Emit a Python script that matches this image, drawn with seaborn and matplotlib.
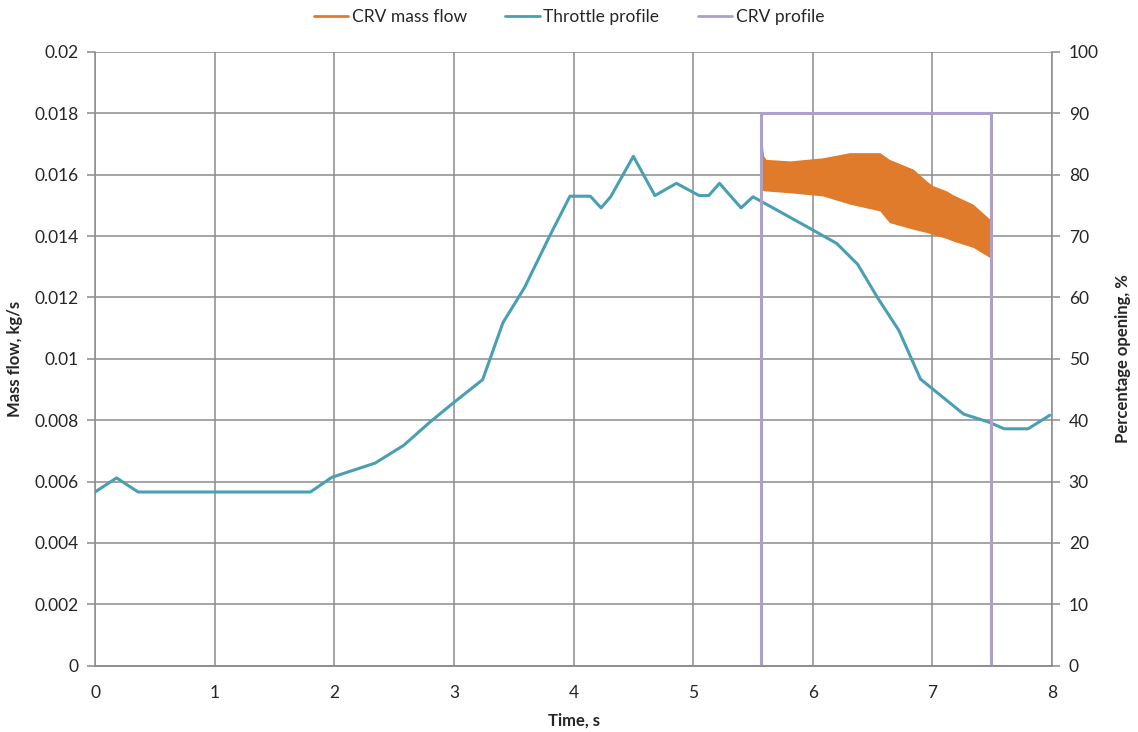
import matplotlib
matplotlib.use("Agg")
import matplotlib.pyplot as plt
from matplotlib.lines import Line2D
import seaborn as sns
import pandas as pd

# ---- data ----
throttle_time = [0.00, 0.18, 0.36, 1.80, 1.98, 2.34, 2.58, 2.80, 3.00, 3.24, 3.41, 3.59,
                 3.80, 3.97, 4.14, 4.23, 4.31, 4.50, 4.68, 4.86, 5.05, 5.13, 5.22, 5.40,
                 5.50, 5.99, 6.20, 6.375, 6.54, 6.72, 6.90, 7.26, 7.47, 7.60, 7.80, 7.98]
throttle_pct = [28.3, 30.6, 28.3, 28.3, 30.7, 33.0, 35.9, 39.7, 42.9, 46.6, 55.9, 61.6,
                70.0, 76.5, 76.5, 74.6, 76.4, 83.0, 76.6, 78.6, 76.6, 76.6, 78.6, 74.6,
                76.4, 71.1, 68.8, 65.4, 60.0, 54.6, 46.7, 41.0, 39.7, 38.6, 38.6, 40.8]

crv_profile_time = [5.57, 5.57, 7.49, 7.49]
crv_profile_pct = [0, 90, 90, 0]

crv_flow_time = [5.57, 5.59, 5.61, 5.81, 6.08, 6.31, 6.56, 6.64, 6.84, 6.95, 7.00,
                 7.12, 7.17, 7.34, 7.48]
crv_flow_upper = [0.0172, 0.0166, 0.0165, 0.01645, 0.01655, 0.01672, 0.01672, 0.0165,
                  0.01618, 0.0158, 0.01565, 0.01547, 0.01535, 0.01504, 0.01455]
crv_flow_lower = [0.0155, 0.01548, 0.01547, 0.01541, 0.01531, 0.01504, 0.01482, 0.01444,
                  0.01422, 0.01412, 0.01406, 0.01392, 0.01384, 0.01363, 0.0133]

x_ticks = [0, 1, 2, 3, 4, 5, 6, 7, 8]
left_ticks = [0, 0.002, 0.004, 0.006, 0.008, 0.01, 0.012, 0.014, 0.016, 0.018, 0.02]
left_labels = ["0", "0.002", "0.004", "0.006", "0.008", "0.01", "0.012", "0.014",
               "0.016", "0.018", "0.02"]
right_ticks = [0, 10, 20, 30, 40, 50, 60, 70, 80, 90, 100]

# ---- style ----
sns.set_theme(style="white")
plt.rcParams['font.family'] = ['Lato', 'DejaVu Sans']

ORANGE = "#E07B2C"
TEAL = "#4A9FB3"
PURPLE = "#ADA1CB"
GRID = "#8C8C8C"
TXT = "#262626"

fig = plt.figure(figsize=(11.38, 7.32), dpi=100)
ax = fig.add_axes([0.0835, 0.0906, 0.8410, 0.8384])
ax2 = ax.twinx()

# CRV mass flow band (min/max envelope per time)
flow_df = pd.DataFrame({
    "time": crv_flow_time + crv_flow_time,
    "flow": crv_flow_upper + crv_flow_lower,
})
sns.lineplot(data=flow_df, x="time", y="flow", ax=ax, estimator="mean",
             errorbar=("pi", 100), color=ORANGE, linewidth=1.5,
             err_kws={"alpha": 1.0, "linewidth": 0}, legend=False)

# throttle and CRV profile on the percentage axis
thr_df = pd.DataFrame({"time": throttle_time, "pct": throttle_pct})
sns.lineplot(data=thr_df, x="time", y="pct", ax=ax2, color=TEAL, linewidth=2.2,
             estimator=None, sort=False, legend=False)
crv_df = pd.DataFrame({"time": crv_profile_time, "pct": crv_profile_pct})
sns.lineplot(data=crv_df, x="time", y="pct", ax=ax2, color=PURPLE, linewidth=2.2,
             estimator=None, sort=False, legend=False)

# axes limits and ticks
ax.set_xlim(0, 8)
ax.set_ylim(0, 0.02)
ax2.set_ylim(0, 100)
ax.set_xticks(x_ticks)
ax.set_xticklabels([str(t) for t in x_ticks])
ax.set_yticks(left_ticks)
ax.set_yticklabels(left_labels)
ax2.set_yticks(right_ticks)
ax2.set_yticklabels([str(t) for t in right_ticks])

ax.grid(True, color=GRID, linewidth=1.1)
ax.set_axisbelow(True)
ax2.grid(False)

for a in (ax, ax2):
    for s in a.spines.values():
        s.set_color(GRID)
        s.set_linewidth(1.1)
    a.spines["top"].set_visible(False)
ax2.spines["left"].set_visible(False)
ax.spines["right"].set_visible(False)

ax.tick_params(axis="both", which="both", direction="out", length=6, width=1.1,
               color=GRID, labelsize=12.5, labelcolor=TXT, pad=6)
ax2.tick_params(axis="y", direction="out", length=6, width=1.1, color=GRID,
                labelsize=12.5, labelcolor=TXT, pad=6)
ax.tick_params(axis="x", pad=8)

ax.set_xlabel("Time, s", fontsize=12, fontweight="bold", color=TXT, labelpad=8)
ax.set_ylabel("Mass flow, kg/s", fontsize=12, fontweight="bold", color=TXT, labelpad=8)
ax2.set_ylabel("Percentage opening, %", fontsize=12, fontweight="bold", color=TXT,
               labelpad=12)

handles = [Line2D([0], [0], color=ORANGE, lw=2.0),
           Line2D([0], [0], color=TEAL, lw=2.0),
           Line2D([0], [0], color=PURPLE, lw=2.0)]
fig.legend(handles, ["CRV mass flow", "Throttle profile", "CRV profile"],
           loc="center", bbox_to_anchor=(0.5, 0.977), ncol=3, frameon=False,
           fontsize=12.5, handlelength=2.0, handletextpad=0.2, columnspacing=2.2,
           labelcolor=TXT)

fig.savefig("out.png", dpi=100)
